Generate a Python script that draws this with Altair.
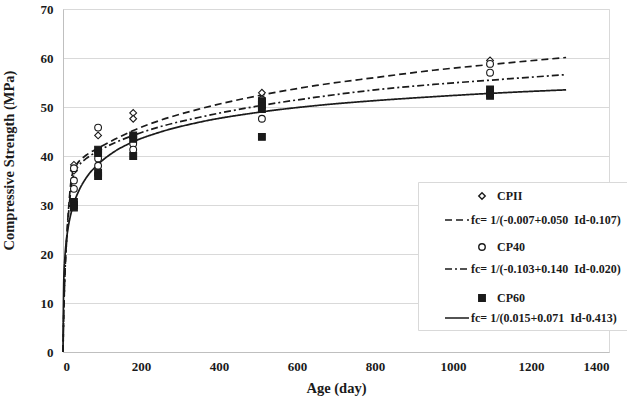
import altair as alt
import pandas as pd

# ---------------- data ----------------
PT_KEYS = ["CPII", "CP40", "CP60"]
FIT_KEYS = [
    "fc= 1/(-0.007+0.050\u00a0 Id-0.107)",
    "fc= 1/(-0.103+0.140\u00a0 Id-0.020)",
    "fc= 1/(0.015+0.071\u00a0 Id-0.413)",
]

cpii_age = [28, 28, 90, 180, 180, 510, 1095]
cpii_val = [38.2, 37.0, 44.2, 48.8, 47.6, 52.9, 59.5]

cp40_age = [28, 28, 28, 90, 90, 90, 180, 180, 510, 510, 1095, 1095]
cp40_val = [37.5, 35.0, 33.3, 45.8, 39.5, 38.0, 42.5, 41.3, 51.5, 47.6, 58.8, 57.0]

cp60_age = [28, 28, 28, 90, 90, 90, 90, 180, 180, 180, 510, 510, 510, 510, 1095, 1095, 1095]
cp60_val = [30.6, 30.0, 29.5, 41.3, 40.6, 36.6, 35.9, 44.2, 43.5, 40.0, 51.2, 50.4, 49.6, 43.9, 53.6, 52.8, 52.3]

curve_age = [0, 2, 5, 10, 15, 20, 28, 40, 60, 90, 130, 180, 250, 350, 500, 650, 800, 950, 1100, 1290]
fit_cpii = [0, 8.0, 16.0, 24.0, 30.0, 34.5, 37.3, 38.8, 40.2, 41.6, 43.3, 45.2, 47.3, 49.6, 52.3, 54.4, 56.0, 57.5, 58.7, 60.1]
fit_cp40 = [0, 8.0, 16.0, 23.5, 29.0, 33.0, 36.3, 38.0, 39.5, 41.0, 42.6, 44.2, 46.0, 47.9, 50.2, 52.0, 53.5, 54.6, 55.5, 56.6]
fit_cp60 = [0, 14.6, 19.4, 23.6, 26.2, 28.1, 30.4, 32.8, 35.6, 38.3, 40.8, 42.9, 44.9, 46.9, 48.9, 50.3, 51.3, 52.1, 52.8, 53.5]

x_ticks = [0, 200, 400, 600, 800, 1000, 1200, 1400]
y_ticks = [0, 10, 20, 30, 40, 50, 60, 70]

# ---------------- tables ----------------
pts = pd.DataFrame({
    "age": cpii_age + cp40_age + cp60_age,
    "val": cpii_val + cp40_val + cp60_val,
    "series": [PT_KEYS[0]] * len(cpii_age) + [PT_KEYS[1]] * len(cp40_age) + [PT_KEYS[2]] * len(cp60_age),
})
fits = pd.DataFrame({
    "age": curve_age * 3,
    "val": fit_cpii + fit_cp40 + fit_cp60,
    "fit": [FIT_KEYS[0]] * len(curve_age) + [FIT_KEYS[1]] * len(curve_age) + [FIT_KEYS[2]] * len(curve_age),
})

INK = "#1a1a1a"
FONT = "Liberation Serif"
LINE = "M-3.7,0H3.7"

# two interleaved legends: the fit-line legend carries the box, the symbol legend sits on top
leg_fit = alt.Legend(
    title="\u00a0", titleFontSize=12, titlePadding=14,
    orient="none", legendX=355, legendY=173, columns=1,
    symbolType=LINE, symbolStrokeColor=INK, symbolFillColor="transparent",
    fillColor="white", strokeColor="#d9d9d9", padding=6, rowPadding=37,
    symbolOffset=27, labelOffset=8, zindex=1,
)
leg_pts = alt.Legend(
    title=None, orient="none", legendX=380, legendY=175, columns=1,
    fillColor="transparent", strokeColor="transparent", padding=6, rowPadding=37,
    symbolOffset=27, labelOffset=9, zindex=2,
)

x_enc = alt.X("age:Q", scale=alt.Scale(domain=[0, 1400], nice=False),
              axis=alt.Axis(values=x_ticks, title="Age (day)", grid=False, format="d"))
y_enc = alt.Y("val:Q", scale=alt.Scale(domain=[0, 70], nice=False),
              axis=alt.Axis(values=y_ticks, title="Compressive Strength (MPa)",
                            titleX=-47, titleY=151))

lines = alt.Chart(fits).mark_line(strokeWidth=1.7, color=INK, interpolate="monotone").encode(
    x=x_enc,
    y=y_enc,
    strokeDash=alt.StrokeDash("fit:N", scale=alt.Scale(
        domain=FIT_KEYS, range=[[7, 4], [7, 3, 2, 3], [1, 0]]), legend=leg_fit),
)

points = alt.Chart(pts).mark_point(size=46, strokeWidth=1.1, color=INK, filled=False, opacity=1).encode(
    x=x_enc,
    y=y_enc,
    shape=alt.Shape("series:N", scale=alt.Scale(
        domain=PT_KEYS, range=["diamond", "circle", "square"]), legend=leg_pts),
    fill=alt.Fill("series:N", scale=alt.Scale(
        domain=PT_KEYS, range=["white", "white", INK]), legend=leg_pts),
)

chart = alt.layer(lines, points).properties(
    width=546, height=343,
    autosize=alt.AutoSizeParams(type="none"),
    padding={"left": 63, "top": 9, "right": 18, "bottom": 57},
).configure_view(
    stroke="#d9d9d9", strokeWidth=1
).configure_axis(
    labelFont=FONT, labelFontWeight="bold", labelFontSize=13, labelColor=INK,
    titleFont=FONT, titleFontWeight="bold", titleFontSize=14.5, titleColor=INK,
    domainColor="#bfbfbf", gridColor="#d9d9d9", ticks=False,
).configure_axisX(
    labelPadding=8, titlePadding=8,
).configure_axisY(
    labelPadding=10,
).configure_legend(
    labelFont=FONT, labelFontWeight="bold", labelFontSize=12, labelColor=INK,
    symbolSize=42, symbolStrokeWidth=1.4, labelLimit=400,
)

chart.save("out.html", embed_options={"renderer": "svg", "actions": False})
